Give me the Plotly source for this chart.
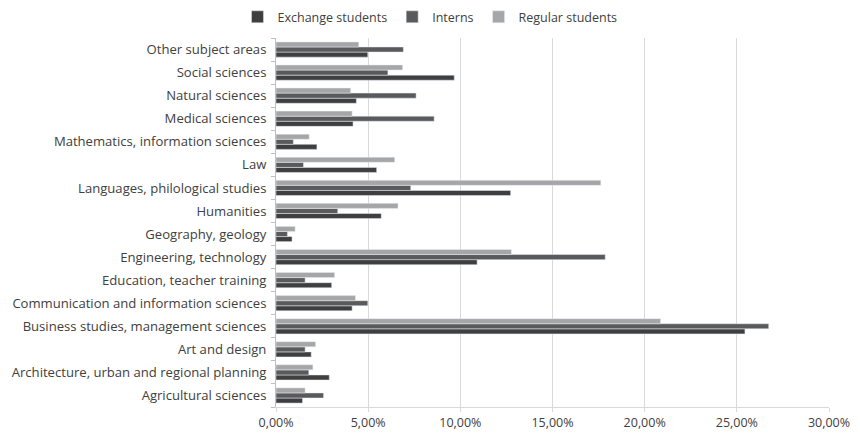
import plotly.graph_objects as go

categories = [
    "Agricultural sciences",
    "Architecture, urban and regional planning",
    "Art and design",
    "Business studies, management sciences",
    "Communication and information sciences",
    "Education, teacher training",
    "Engineering, technology",
    "Geography, geology",
    "Humanities",
    "Languages, philological studies",
    "Law",
    "Mathematics, information sciences",
    "Medical sciences",
    "Natural sciences",
    "Social sciences",
    "Other subject areas",
]

exchange_students = [0.0144, 0.0289, 0.0191, 0.2544, 0.0413, 0.0302, 0.1091, 0.0087,
                     0.0571, 0.1273, 0.0546, 0.0222, 0.0418, 0.0436, 0.0967, 0.0498]
interns = [0.0258, 0.0178, 0.0158, 0.2673, 0.0498, 0.0158, 0.1786, 0.0062,
           0.0335, 0.0731, 0.0149, 0.0094, 0.0858, 0.0760, 0.0607, 0.0691]
regular_students = [0.0158, 0.0200, 0.0215, 0.2086, 0.0431, 0.0318, 0.1277, 0.0104,
                    0.0662, 0.1762, 0.0644, 0.0180, 0.0413, 0.0405, 0.0687, 0.0449]

x_ticks = [0, 0.05, 0.10, 0.15, 0.20, 0.25, 0.30]

fig = go.Figure()
fig.add_trace(go.Bar(y=categories, x=exchange_students, name="Exchange students",
                     orientation="h", marker=dict(color="#3f3f3f")))
fig.add_trace(go.Bar(y=categories, x=interns, name="Interns",
                     orientation="h", marker=dict(color="#5a5a5a")))
fig.add_trace(go.Bar(y=categories, x=regular_students, name="Regular students",
                     orientation="h", marker=dict(color="#a6a6a6")))

fig.update_layout(
    width=860, height=440,
    margin=dict(l=276, r=31, t=38, b=33),
    paper_bgcolor="white", plot_bgcolor="white",
    barmode="group", bargap=0.34, bargroupgap=0,
    separators=",.",
    font=dict(family="Open Sans, Liberation Sans, sans-serif", size=12.5, color="#404040"),
    legend=dict(orientation="h", xref="container", x=0.5, xanchor="center",
                yref="container", y=0.995, yanchor="top",
                font=dict(size=12.5, color="#404040"), traceorder="normal",
                itemwidth=30),
    showlegend=True,
)

fig.update_xaxes(
    range=[0, 0.30], tickvals=x_ticks, tickformat=".2%",
    showgrid=True, gridcolor="#d9d9d9", gridwidth=1,
    showline=True, linecolor="#d9d9d9", linewidth=1,
    ticks="outside", ticklen=4, tickcolor="#d9d9d9",
    zeroline=False, tickfont=dict(size=12.5, color="#404040"),
    automargin=False,
)
fig.update_yaxes(
    type="category", categoryorder="array", categoryarray=categories,
    showline=True, linecolor="#bfbfbf", linewidth=1,
    ticks="outside", ticklen=4, tickcolor="#bfbfbf", tickson="boundaries",
    ticklabelstandoff=6, automargin=False,
    showgrid=False, tickfont=dict(size=13.1, color="#404040"),
)

fig.write_html("out.html")
